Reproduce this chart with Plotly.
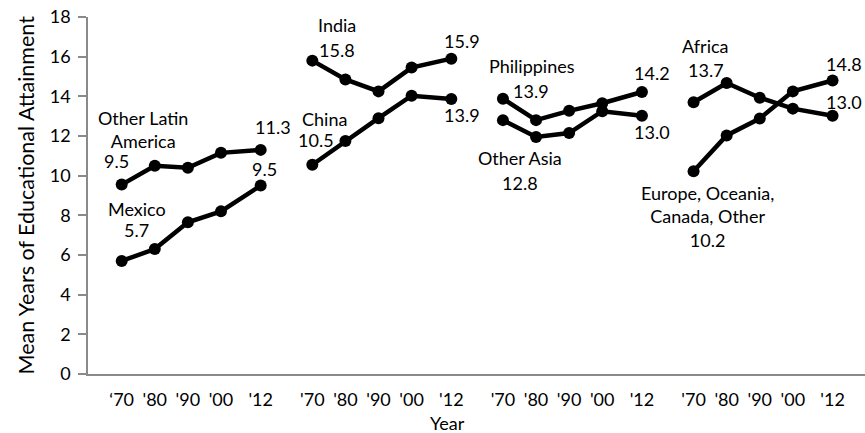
import plotly.graph_objects as go

# ---- data ----
years = [1970, 1980, 1990, 2000, 2012]
tick_text_first = ["\u201870", "'80", "'90", "'00", "'12"]
tick_text_other = ["'70", "'80", "'90", "'00", "'12"]

mexico = [5.7, 6.3, 7.65, 8.2, 9.5]
other_latin_america = [9.55, 10.5, 10.4, 11.15, 11.3]
india = [15.8, 14.85, 14.25, 15.45, 15.9]
china = [10.55, 11.75, 12.9, 14.03, 13.87]
philippines = [13.88, 12.8, 13.27, 13.65, 14.22]
other_asia = [12.8, 11.95, 12.15, 13.25, 13.02]
africa = [13.7, 14.67, 13.93, 13.38, 13.02]
europe_other = [10.22, 12.03, 12.88, 14.25, 14.8]

groups = [
    (mexico, other_latin_america),
    (india, china),
    (philippines, other_asia),
    (africa, europe_other),
]

GROUP_GAP = 57.6  # spacing between panels, in years


def xpos(g):
    return [(y - 1970) + g * GROUP_GAP for y in years]


fig = go.Figure()
for g, pair in enumerate(groups):
    for series in pair:
        fig.add_trace(go.Scatter(
            x=xpos(g), y=series, mode="lines+markers",
            line=dict(color="black", width=4.5),
            marker=dict(color="black", size=12),
            showlegend=False, hoverinfo="skip"))

FONT = "Lato"
TXT = dict(family=FONT, size=18, color="black")

# labels: (group, series, point index, text, xshift, yshift)
labels = [
    (0, other_latin_america, 0, "Other Latin<br>America", 21, 55),
    (0, other_latin_america, 0, "9.5", -5, 24),
    (0, other_latin_america, 4, "11.3", 12, 23),
    (0, mexico, 0, "Mexico", 15, 52),
    (0, mexico, 0, "5.7", 15, 31),
    (0, mexico, 4, "9.5", 4, 17),
    (1, india, 0, "India", 25, 36),
    (1, india, 0, "15.8", 25, 11),
    (1, india, 4, "15.9", 11, 18),
    (1, china, 0, "China", 12, 46),
    (1, china, 0, "10.5", 4, 25),
    (1, china, 4, "13.9", 11, -16),
    (2, philippines, 0, "Philippines", 29, 33),
    (2, philippines, 0, "13.9", 28, 8),
    (2, philippines, 4, "14.2", 10, 19),
    (2, other_asia, 0, "Other Asia", 17, -38),
    (2, other_asia, 0, "12.8", 17, -63),
    (2, other_asia, 4, "13.0", 10, -16),
    (3, africa, 0, "Africa", 12, 56),
    (3, africa, 0, "13.7", 12, 32),
    (3, africa, 4, "13.0", 11, 14),
    (3, europe_other, 4, "14.8", 11, 16),
    (3, europe_other, 0, "Europe, Oceania,<br>Canada, Other<br>10.2", 14, -45),
]

annotations = []
for g, series, i, text, dx, dy in labels:
    annotations.append(dict(
        x=xpos(g)[i], y=series[i], xref="x", yref="y", text=text,
        showarrow=False, xshift=dx, yshift=dy, font=TXT,
        xanchor="center", yanchor="middle", align="center"))

annotations.append(dict(
    x=0, y=0.5, xref="paper", yref="paper", text="Mean Years of Educational Attainment",
    textangle=-90, showarrow=False, xshift=-63, xanchor="center", yanchor="middle",
    font=dict(family=FONT, size=21.5, color="black")))
annotations.append(dict(
    x=(447 - 88) / 777, y=0, xref="paper", yref="paper", text="Year",
    showarrow=False, yshift=-49, xanchor="center", yanchor="middle",
    font=dict(family=FONT, size=18, color="black")))

tickvals, ticktext = [], []
for g in range(4):
    tickvals += xpos(g)
    ticktext += tick_text_first if g == 0 else tick_text_other

AXIS_COLOR = "#8a8a8a"
fig.update_layout(
    width=865, height=433,
    margin=dict(l=88, r=0, t=17, b=59),
    paper_bgcolor="white", plot_bgcolor="white",
    font=dict(family=FONT, size=18, color="black"),
    annotations=annotations,
    xaxis=dict(
        range=[-10.18, 224.6], showgrid=False, zeroline=False,
        showline=True, linecolor=AXIS_COLOR, linewidth=1.5,
        tickvals=tickvals, ticktext=ticktext, ticks="",
        ticklabelstandoff=9, ticklabeloverflow="allow",
        tickfont=dict(family=FONT, size=18, color="black"),
    ),
    yaxis=dict(
        range=[0, 18], tickvals=list(range(0, 19, 2)), showgrid=False, zeroline=False,
        showline=True, linecolor=AXIS_COLOR, linewidth=1.5,
        ticks="outside", ticklen=8, tickwidth=1.5, tickcolor=AXIS_COLOR,
        ticklabelstandoff=4, ticklabeloverflow="allow",
        tickfont=dict(family=FONT, size=18, color="black"),
    ),
    shapes=[dict(type="line", xref="x", yref="y", xsizemode="pixel", xanchor=-10.18,
                 x0=-16, x1=0, y0=0, y1=0, line=dict(color=AXIS_COLOR, width=1.5))],
)

# remove the default page margin so the 865x433 figure fills the window exactly
fig.write_html(
    "out.html",
    config={"displayModeBar": False},
    post_script="document.body.style.margin='0px';document.body.style.overflow='hidden';",
)
